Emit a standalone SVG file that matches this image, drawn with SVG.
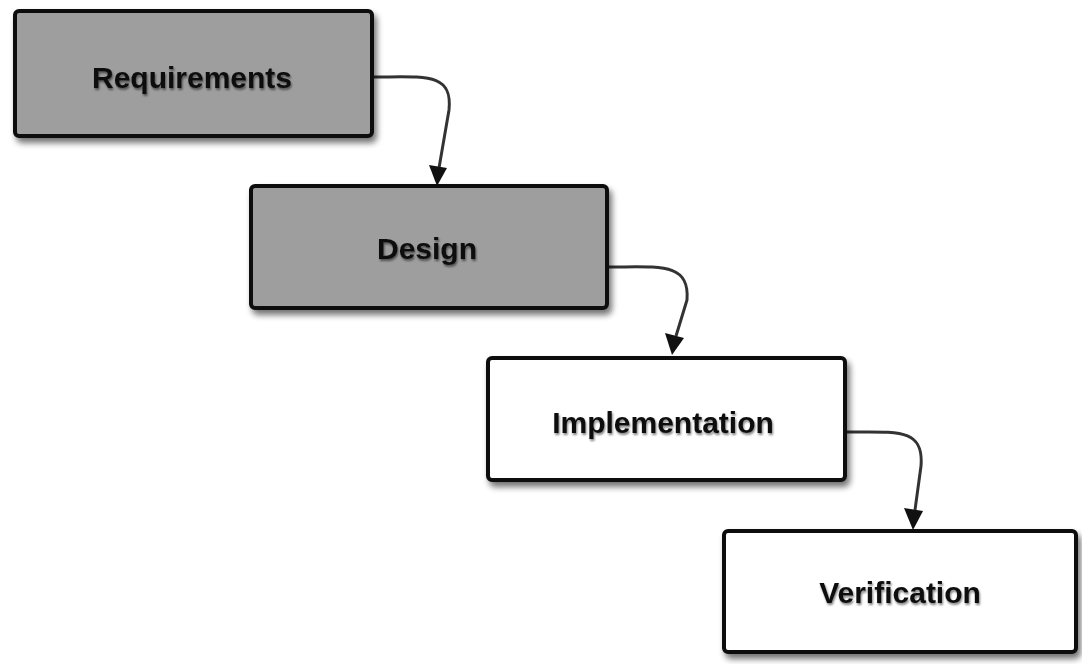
<svg xmlns="http://www.w3.org/2000/svg" width="1082" height="664" viewBox="0 0 1082 664">
  <style>
    .box { stroke: #111; stroke-width: 4; }
    .dark { fill: #9e9e9e; }
    .light { fill: #ffffff; }
    .label { font-family: "Liberation Sans", Arial, sans-serif; font-weight: bold; font-size: 30px; fill: #111; text-anchor: middle; dominant-baseline: central; }
    .conn { fill: none; stroke: #333; stroke-width: 3; }
    .head { fill: #111; }
  </style>
  <defs>
    <filter id="shadow" x="-10%" y="-20%" width="125%" height="150%">
      <feGaussianBlur in="SourceAlpha" stdDeviation="3"/>
      <feOffset dx="3" dy="5" result="b"/>
      <feComponentTransfer><feFuncA type="linear" slope="0.55"/></feComponentTransfer>
      <feMerge><feMergeNode/><feMergeNode in="SourceGraphic"/></feMerge>
    </filter>
    <filter id="tshadow" x="-10%" y="-30%" width="120%" height="160%">
      <feGaussianBlur in="SourceAlpha" stdDeviation="1.2"/>
      <feOffset dx="1" dy="2"/>
      <feComponentTransfer><feFuncA type="linear" slope="0.5"/></feComponentTransfer>
      <feMerge><feMergeNode/><feMergeNode in="SourceGraphic"/></feMerge>
    </filter>
  </defs>

  <g id="connectors">
    <path class="conn" d="M373,77 C425,77 453,72 449,110 L439,168"/>
    <path class="head" d="M429,165 L447,168 L437,186 Z"/>
    <path class="conn" d="M608,267 C660,267 690,262 687,300 L676,336"/>
    <path class="head" d="M665,333 L684,338 L672,355 Z"/>
    <path class="conn" d="M847,432 C898,432 924,428 921,466 L915,510"/>
    <path class="head" d="M904,508 L923,511 L913,530 Z"/>
  </g>

  <g id="node-requirements" filter="url(#shadow)">
    <rect class="box dark" x="15" y="11" width="357" height="125" rx="4"/>
    <text class="label" x="192" y="77" filter="url(#tshadow)">Requirements</text>
  </g>

  <g id="node-design" filter="url(#shadow)">
    <rect class="box dark" x="251" y="186" width="356" height="122" rx="4"/>
    <text class="label" x="427" y="248" filter="url(#tshadow)">Design</text>
  </g>

  <g id="node-implementation" filter="url(#shadow)">
    <rect class="box light" x="488" y="358" width="357" height="122" rx="4"/>
    <text class="label" x="663" y="422" filter="url(#tshadow)">Implementation</text>
  </g>

  <g id="node-verification" filter="url(#shadow)">
    <rect class="box light" x="724" y="531" width="352" height="121" rx="4"/>
    <text class="label" x="900" y="592" filter="url(#tshadow)">Verification</text>
  </g>
</svg>
